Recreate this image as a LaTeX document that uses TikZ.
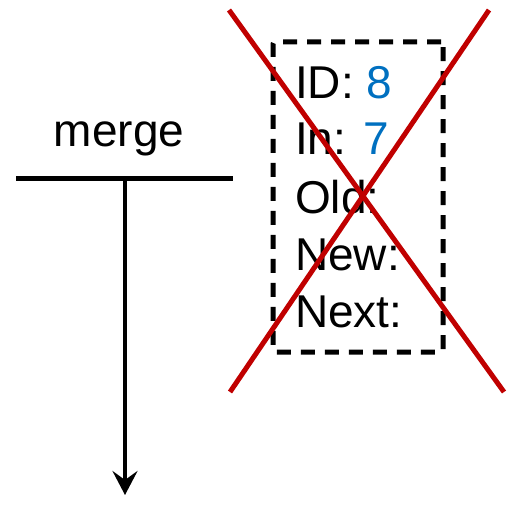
\documentclass[tikz,border=0pt]{standalone}
\usepackage{fontspec}
\setmainfont{Liberation Sans}
\usetikzlibrary{arrows.meta}
\definecolor{valblue}{RGB}{0,112,192}
\definecolor{crossred}{RGB}{192,0,0}
\tikzset{
  lbl/.style={font=\fontsize{46}{55}\selectfont, inner sep=0pt, anchor=base west},
  bar/.style={line width=5pt},
  flow/.style={line width=4pt, -{Stealth[length=24pt,width=25pt,inset=9pt]}},
  dbox/.style={draw, line width=5pt, dash pattern=on 14pt off 10pt, rounded corners=2pt},
  xline/.style={draw=crossred, line width=5pt}
}
\begin{document}
\begin{tikzpicture}[x=1pt,y=1pt]
\useasboundingbox (0,0) rectangle (510,504);
\node[font=\fontsize{46}{55}\selectfont, inner sep=0pt, anchor=base] (merge) at (119,357) {merge};
\coordinate (barL) at (16,326);
\coordinate (barR) at (233,326);
\coordinate (barM) at (125,326);
\coordinate (flowEnd) at (125,9);
\draw[bar] (barL) -- (barR);
\draw[flow] (barM) -- (flowEnd);
\node[dbox, minimum width=170pt, minimum height=310pt] (box) at (358,307) {};
\node[lbl] (id) at (295,405) {ID: \textcolor{valblue}{8}};
\node[lbl] (in) at (295,349) {In: \textcolor{valblue}{7}};
\node[lbl] (old) at (295,291) {Old:};
\node[lbl] (new) at (295,234) {New:};
\node[lbl] (next) at (295,177) {Next:};
\coordinate (x1a) at (229,494);
\coordinate (x1b) at (504,112);
\coordinate (x2a) at (489,494);
\coordinate (x2b) at (230,112);
\draw[xline] (x1a) -- (x1b);
\draw[xline] (x2a) -- (x2b);
\end{tikzpicture}
\end{document}
